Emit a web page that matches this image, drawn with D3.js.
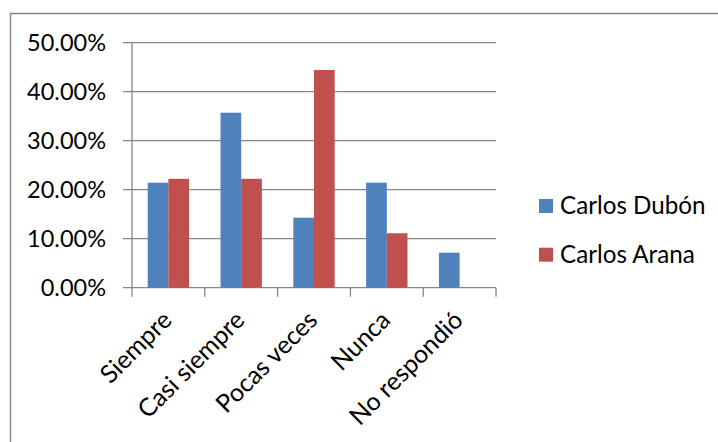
<!DOCTYPE html>
<html><head><meta charset="utf-8">
<script src="https://cdn.jsdelivr.net/npm/d3@7"></script>
<style>body{margin:0;background:#fff}svg{display:block}</style>
</head><body>
<svg id="chart" width="718" height="442"></svg>
<script>
const categories = ["Siempre", "Casi siempre", "Pocas veces", "Nunca", "No respondió"];
const seriesNames = ["Carlos Dubón", "Carlos Arana"];
const dubon = [21.43, 35.71, 14.29, 21.43, 7.14];
const arana = [22.22, 22.22, 44.44, 11.11, 0];
const yTicks = [0, 10, 20, 30, 40, 50];
const colors = ["#4F81BD", "#C0504D"];

const svg = d3.select("#chart");
const font = "Lato, 'Open Sans', sans-serif";
const pLeft = 132, pRight = 496, pTop = 42.7, pBottom = 287.7;

// frame
svg.append("path").attr("d", "M10.5,442V13.5H718")
  .attr("fill", "none").attr("stroke", "#868686").attr("stroke-width", 1.5);

const x = d3.scaleBand().domain(categories).range([pLeft, pRight]).padding(0);
const y = d3.scaleLinear().domain([0, 50]).range([pBottom, pTop]);
const bw = x.bandwidth() * 0.284;

// gridlines
svg.append("g").selectAll("line").data(yTicks).join("line")
  .attr("x1", pLeft - 9).attr("x2", pRight)
  .attr("y1", d => y(d)).attr("y2", d => y(d))
  .attr("stroke", "#868686").attr("stroke-width", 1.3);

// y axis line
svg.append("line").attr("x1", pLeft).attr("x2", pLeft).attr("y1", pTop).attr("y2", pBottom)
  .attr("stroke", "#868686").attr("stroke-width", 1.3);

// x ticks
const xt = categories.map(c => x(c)).concat([pRight]);
svg.append("g").selectAll("line").data(xt).join("line")
  .attr("x1", d => d).attr("x2", d => d).attr("y1", pBottom).attr("y2", pBottom + 9)
  .attr("stroke", "#868686").attr("stroke-width", 1.3);

// y labels
svg.append("g").selectAll("text").data(yTicks).join("text")
  .attr("x", 106).attr("y", d => y(d) + 8.3)
  .attr("text-anchor", "end").attr("font-family", font).attr("font-size", 23.5)
  .attr("fill", "#000").text(d => d.toFixed(2) + "%");

// bars
[dubon, arana].forEach((vals, si) => {
  svg.append("g").selectAll("rect").data(vals).join("rect")
    .attr("x", (d, i) => x(categories[i]) + x.bandwidth() / 2 - bw + si * bw)
    .attr("width", bw)
    .attr("y", d => y(d)).attr("height", d => y(0) - y(d))
    .attr("fill", colors[si]);
});

// x labels
svg.append("g").selectAll("text").data(categories).join("text")
  .attr("transform", d => `translate(${x(d) + x.bandwidth() / 2 + 5},${pBottom + 34}) rotate(-45)`)
  .attr("text-anchor", "end").attr("font-family", font).attr("font-size", 25)
  .attr("fill", "#000").text(d => d);

// legend
const lg = svg.append("g");
seriesNames.forEach((n, i) => {
  lg.append("rect").attr("x", 539).attr("y", 199 + i * 48.7).attr("width", 14).attr("height", 14)
    .attr("fill", colors[i]);
  lg.append("text").attr("x", 560).attr("y", 214.3 + i * 48.4)
    .attr("font-family", font).attr("font-size", 24.2).attr("fill", "#000").text(n);
});
</script>
</body></html>
